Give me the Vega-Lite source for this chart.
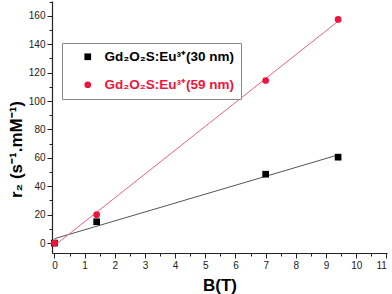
{
  "$schema": "https://vega.github.io/schema/vega-lite/v6.json",
  "autosize": "none",
  "padding": {"left": 52, "top": 1, "right": 5, "bottom": 41},
  "width": 335,
  "height": 252,
  "background": "white",
  "config": {
    "view": {"stroke": null},
    "axis": {"labelFont": "Liberation Sans", "titleFont": "Liberation Sans", "labelFontSize": 10, "labelColor": "#222", "domainColor": "#222", "tickColor": "#222", "grid": false, "domainWidth": 1.2, "tickWidth": 1},
    "legend": {"orient": "none", "legendX": 10, "legendY": 42, "padding": 7, "symbolOffset": 12, "labelOffset": 10, "rowPadding": 13, "labelFont": "Liberation Sans", "labelFontSize": 13.5, "labelFontWeight": "bold", "labelLimit": 300, "symbolSize": 45, "strokeColor": "#888888", "fillColor": "white"}
  },
  "data": {
    "values": [
      {"B": 0, "r2": 0, "s": "Gd₂O₂S:Eu³⁺(30 nm)"},
      {"B": 1.4, "r2": 15, "s": "Gd₂O₂S:Eu³⁺(30 nm)"},
      {"B": 7, "r2": 48.5, "s": "Gd₂O₂S:Eu³⁺(30 nm)"},
      {"B": 9.4, "r2": 60.5, "s": "Gd₂O₂S:Eu³⁺(30 nm)"},
      {"B": 0, "r2": 0, "s": "Gd₂O₂S:Eu³⁺(59 nm)"},
      {"B": 1.4, "r2": 20, "s": "Gd₂O₂S:Eu³⁺(59 nm)"},
      {"B": 7, "r2": 114.5, "s": "Gd₂O₂S:Eu³⁺(59 nm)"},
      {"B": 9.4, "r2": 157.5, "s": "Gd₂O₂S:Eu³⁺(59 nm)"}
    ]
  },
  "resolve": {"axis": {"x": "independent", "y": "independent"}},
  "layer": [
    {
      "transform": [{"filter": "indexof(datum.s, '30') >= 0"}, {"regression": "r2", "on": "B", "extent": [0, 9.4]}],
      "mark": {"type": "line", "strokeWidth": 1, "color": "#555555"},
      "encoding": {
        "x": {"field": "B", "type": "quantitative", "scale": {"domain": [-0.08, 11.02], "nice": false, "zero": false},
          "axis": {"orient": "bottom", "values": [0,1,2,3,4,5,6,7,8,9,10,11], "title": "B(T)", "titleFontSize": 17, "titleFontWeight": "bold", "titleBaseline": "middle", "titleY": 32, "tickSize": 5, "labelPadding": 2}},
        "y": {"field": "r2", "type": "quantitative", "scale": {"domain": [-7, 170.5], "nice": false, "zero": false},
          "axis": {"orient": "left", "values": [0,20,40,60,80,100,120,140,160], "title": "r₂ (s⁻¹.mM⁻¹)", "titleFontSize": 17, "titleFontWeight": "bold", "titleBaseline": "middle", "titleX": -36, "titleY": 148, "titleAngle": -90, "tickSize": 5, "labelPadding": 2}}
      }
    },
    {
      "transform": [{"filter": "indexof(datum.s, '59') >= 0"}, {"regression": "r2", "on": "B", "extent": [0, 9.4]}],
      "mark": {"type": "line", "strokeWidth": 1, "color": "#f06080"},
      "encoding": {
        "x": {"field": "B", "type": "quantitative", "axis": null},
        "y": {"field": "r2", "type": "quantitative", "axis": null}
      }
    },
    {
      "mark": {"type": "point", "filled": true, "opacity": 1},
      "encoding": {
        "x": {"field": "B", "type": "quantitative", "scale": {"domain": [-0.08, 11.02], "nice": false, "zero": false},
          "axis": {"orient": "bottom", "values": [0.5,1.5,2.5,3.5,4.5,5.5,6.5,7.5,8.5,9.5,10.5], "labels": false, "title": null, "tickSize": 3, "domain": false}},
        "y": {"field": "r2", "type": "quantitative", "scale": {"domain": [-7, 170.5], "nice": false, "zero": false},
          "axis": {"orient": "left", "values": [10,30,50,70,90,110,130,150,170], "labels": false, "title": null, "tickSize": 3, "domain": false}},
        "fill": {"field": "s", "type": "nominal", "scale": {"domain": ["Gd₂O₂S:Eu³⁺(30 nm)", "Gd₂O₂S:Eu³⁺(59 nm)"], "range": ["#000000", "#f0143c"]},
          "legend": {"title": null, "labelColor": {"expr": "indexof(datum.value, '59') >= 0 ? '#f0143c' : '#000000'"}}},
        "shape": {"field": "s", "type": "nominal", "scale": {"domain": ["Gd₂O₂S:Eu³⁺(30 nm)", "Gd₂O₂S:Eu³⁺(59 nm)"], "range": ["square", "circle"]},
          "legend": {"title": null, "labelColor": {"expr": "indexof(datum.value, '59') >= 0 ? '#f0143c' : '#000000'"}}},
        "size": {"value": 45}
      }
    }
  ]
}
